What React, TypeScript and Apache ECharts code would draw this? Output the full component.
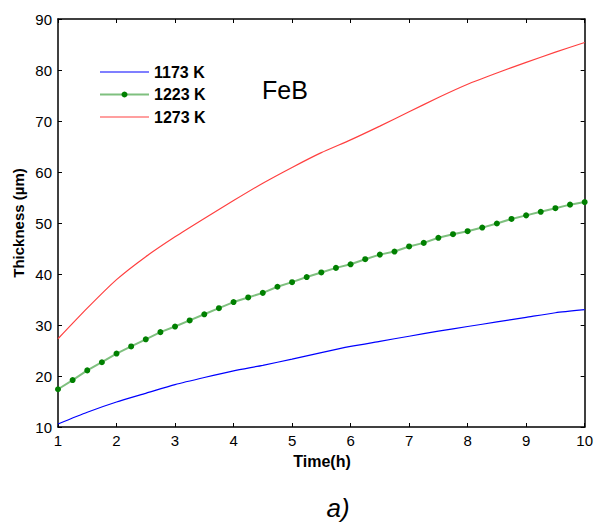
import React, { useEffect, useRef } from "react";
import * as echarts from "echarts";

const timeCoarse = [1, 1.5, 2, 2.5, 3, 3.5, 4, 4.5, 5, 5.5, 6, 6.5, 7, 7.5, 8, 8.5, 9, 9.5, 10];
const timeFine = [
  1, 1.25, 1.5, 1.75, 2, 2.25, 2.5, 2.75, 3, 3.25, 3.5, 3.75, 4, 4.25, 4.5, 4.75, 5, 5.25, 5.5,
  5.75, 6, 6.25, 6.5, 6.75, 7, 7.25, 7.5, 7.75, 8, 8.25, 8.5, 8.75, 9, 9.25, 9.5, 9.75, 10,
];
const thick1173 = [10.6, 12.9, 14.9, 16.6, 18.3, 19.7, 21.0, 22.1, 23.3, 24.6, 25.8, 26.8, 27.8, 28.8, 29.7, 30.6, 31.5, 32.4, 33.0];
const thick1223 = [
  17.4, 19.2, 21.1, 22.7, 24.4, 25.8, 27.2, 28.6, 29.7, 30.9, 32.1, 33.3, 34.5, 35.4, 36.3, 37.5,
  38.4, 39.4, 40.3, 41.2, 41.9, 42.9, 43.8, 44.4, 45.4, 46.1, 47.1, 47.8, 48.4, 49.1, 49.9, 50.8,
  51.5, 52.2, 52.9, 53.6, 54.1,
];
const thick1273 = [27.3, 33.3, 38.9, 43.4, 47.3, 50.9, 54.4, 57.8, 60.9, 63.8, 66.3, 69.0, 71.8, 74.6, 77.2, 79.4, 81.5, 83.5, 85.4];
const seriesNames = ["1173 K", "1223 K", "1273 K"];

const FONT = "'Liberation Sans', Arial, sans-serif";

export default function App() {
  const ref = useRef<HTMLDivElement>(null);
  useEffect(() => {
    document.body.style.margin = "0";
    if (!ref.current) return;
    const chart = echarts.init(ref.current, null, { renderer: "svg" });
    const pair = (xs: number[], ys: number[]) => xs.map((x, i) => [x, ys[i]]);
    const axisLine = { show: true, lineStyle: { color: "#000", width: 1.5 } };
    const tick = { show: true, inside: true, length: 4, lineStyle: { color: "#000", width: 1 } };
    const thinLine = "path://M0,0H49V1.2H0Z";
    chart.setOption({
      animation: false,
      backgroundColor: "#fff",
      grid: { left: 58, right: 9, top: 19, bottom: 97, containLabel: false },
      legend: {
        orient: "vertical",
        left: 94,
        top: 59,
        itemWidth: 49,
        itemHeight: 7.5,
        itemGap: 6.5,
        data: [
          { name: seriesNames[0], icon: thinLine },
          { name: seriesNames[1] },
          { name: seriesNames[2], icon: thinLine },
        ],
        textStyle: { fontFamily: FONT, fontSize: 16, fontWeight: "bold", color: "#000" },
      },
      xAxis: [
        {
          type: "value",
          min: 1,
          max: 10,
          interval: 1,
          axisLine,
          axisTick: tick,
          splitLine: { show: false },
          axisLabel: { color: "#000", fontFamily: FONT, fontSize: 15, margin: 6 },
        },
        {
          type: "value",
          position: "top",
          min: 1,
          max: 10,
          interval: 1,
          axisLine,
          axisTick: tick,
          splitLine: { show: false },
          axisLabel: { show: false },
        },
      ],
      yAxis: [
        {
          type: "value",
          min: 10,
          max: 90,
          interval: 10,
          axisLine,
          axisTick: tick,
          splitLine: { show: false },
          axisLabel: { color: "#000", fontFamily: FONT, fontSize: 15, margin: 6 },
        },
        {
          type: "value",
          position: "right",
          min: 10,
          max: 90,
          interval: 10,
          axisLine,
          axisTick: tick,
          splitLine: { show: false },
          axisLabel: { show: false },
        },
      ],
      series: [
        {
          name: seriesNames[0],
          type: "line",
          data: pair(timeCoarse, thick1173),
          showSymbol: false,
          symbol: "none",
          smooth: 0.2,
          lineStyle: { color: "#0000ff", width: 1.2 },
          itemStyle: { color: "#0000ff" },
        },
        {
          name: seriesNames[1],
          type: "line",
          data: pair(timeFine, thick1223),
          symbol: "circle",
          symbolSize: 6,
          lineStyle: { color: "#7fc07f", width: 2 },
          itemStyle: { color: "#008000", borderWidth: 0 },
        },
        {
          name: seriesNames[2],
          type: "line",
          data: pair(timeCoarse, thick1273),
          showSymbol: false,
          symbol: "none",
          smooth: 0.2,
          lineStyle: { color: "#ff4040", width: 1.2 },
          itemStyle: { color: "#ff4040" },
        },
      ],
      graphic: [
        {
          type: "text",
          left: 262,
          top: 77,
          style: { text: "FeB", font: `25px ${FONT}`, fill: "#000" },
        },
        {
          type: "text",
          x: 322,
          y: 461,
          style: { text: "Time(h)", font: `bold 16px ${FONT}`, fill: "#000", align: "center", verticalAlign: "middle" },
        },
        {
          type: "text",
          x: 18,
          y: 223,
          rotation: Math.PI / 2,
          style: { text: "Thickness (µm)", font: `bold 15px ${FONT}`, fill: "#000", align: "center", verticalAlign: "middle" },
        },
        {
          type: "text",
          x: 338,
          y: 508,
          style: { text: "a)", font: `italic 26px ${FONT}`, fill: "#000", align: "center", verticalAlign: "middle" },
        },
      ],
    });
    return () => chart.dispose();
  }, []);
  return <div ref={ref} style={{ width: 596, height: 524 }} />;
}
